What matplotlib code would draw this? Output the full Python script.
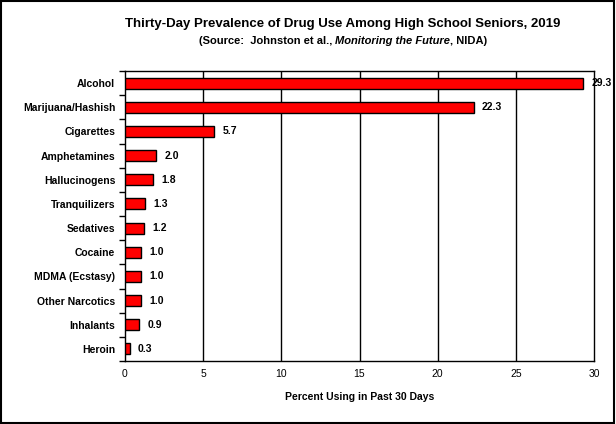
import matplotlib
matplotlib.use("Agg")
import matplotlib.pyplot as plt
from matplotlib.patches import Rectangle
from matplotlib.offsetbox import TextArea, HPacker, AnchoredOffsetbox

categories = ["Alcohol", "Marijuana/Hashish", "Cigarettes", "Amphetamines",
              "Hallucinogens", "Tranquilizers", "Sedatives", "Cocaine",
              "MDMA (Ecstasy)", "Other Narcotics", "Inhalants", "Heroin"]
values = [29.3, 22.3, 5.7, 2.0, 1.8, 1.3, 1.2, 1.0, 1.0, 1.0, 0.9, 0.3]
xticks = [0, 5, 10, 15, 20, 25, 30]

plt.rcParams['font.family'] = ['Liberation Sans', 'DejaVu Sans']

fig = plt.figure(figsize=(6.16, 4.24), dpi=100)
ax = fig.add_axes([125/616, 1-361/424, (594-125)/616, (361-71)/424])

n = len(categories)
ypos = list(range(n))
ax.barh(ypos, values, height=0.46, color='#ff0000', edgecolor='black', linewidth=1.0, zorder=3)
ax.set_ylim(n - 0.5, -0.5)
ax.set_xlim(0, 30)

for x in xticks[1:-1]:
    ax.axvline(x, color='black', linewidth=1.0, zorder=1)

for y, v in zip(ypos, values):
    ax.annotate(f"{v:.1f}", (v, y), xytext=(6, 0), textcoords='offset points',
                va='center', ha='left', fontsize=7.5, fontweight='bold', zorder=4)

ax.set_yticks([i - 0.5 for i in range(n + 1)], minor=False)
ax.set_yticklabels([])
ax.set_yticks(ypos, minor=True)
ax.set_yticklabels(categories, minor=True, fontsize=7.5, fontweight='bold')
ax.tick_params(axis='y', which='major', direction='out', length=4, width=1)
ax.tick_params(axis='y', which='minor', length=0, pad=7)

ax.set_xticks(xticks)
ax.set_xticklabels([str(t) for t in xticks], fontsize=7.5)
ax.tick_params(axis='x', length=0, pad=6)

for s in ax.spines.values():
    s.set_linewidth(1.0)
    s.set_color('black')

ax.set_xlabel("Percent Using in Past 30 Days", fontsize=7.5, fontweight='bold', labelpad=9)

fig.text(343/616, 1-24/424, "Thirty-Day Prevalence of Drug Use Among High School Seniors, 2019",
         ha='center', va='center', fontsize=9.5, fontweight='bold')

t1 = TextArea("(Source:  Johnston et al., ", textprops=dict(fontsize=8, fontweight='bold'))
t2 = TextArea("Monitoring the Future", textprops=dict(fontsize=8, fontweight='bold', style='italic'))
t3 = TextArea(", NIDA)", textprops=dict(fontsize=8, fontweight='bold'))
box = HPacker(children=[t1, t2, t3], align='baseline', pad=0, sep=0)
ab = AnchoredOffsetbox(loc='center', child=box, frameon=False,
                       bbox_to_anchor=(343/616, 1-41/424), bbox_transform=fig.transFigure,
                       pad=0, borderpad=0)
fig.add_artist(ab)

fig.patches.append(Rectangle((0.002, 0.003), 0.994, 0.994, transform=fig.transFigure,
                             fill=False, edgecolor='black', linewidth=1.5))

fig.savefig("out.png", dpi=100)
